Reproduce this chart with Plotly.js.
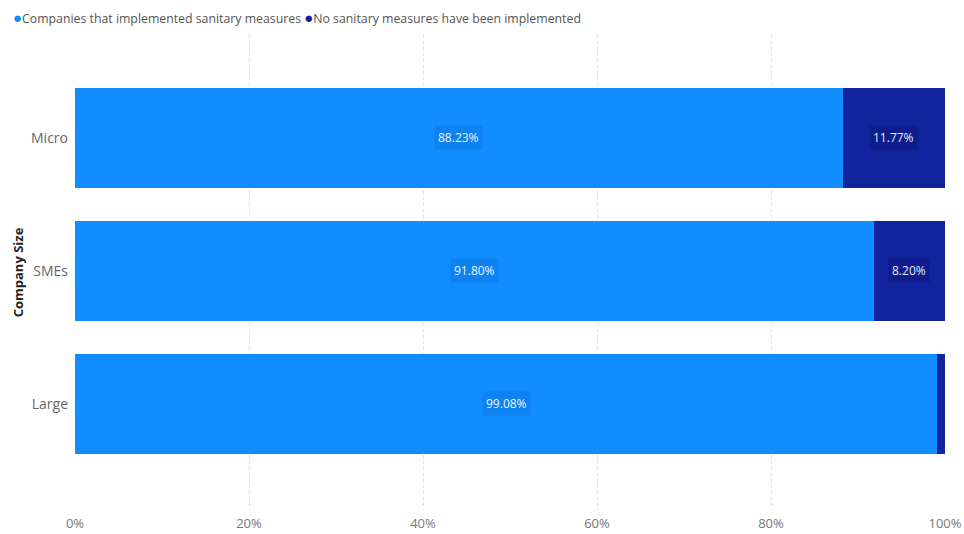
<!DOCTYPE html>
<html>
<head>
<meta charset="utf-8">
<script src="https://cdn.plot.ly/plotly-3.0.1.min.js"></script>
<style>html,body{margin:0;padding:0;background:#fff;}#chart{width:964px;height:534px;}</style>
</head>
<body>
<div id="chart"></div>
<script>
const categories = ['Micro', 'SMEs', 'Large'];
const implemented = [88.23, 91.80, 99.08];
const notImplemented = [11.77, 8.20, 0.92];
const seriesNames = ['Companies that implemented sanitary measures', 'No sanitary measures have been implemented'];
const colors = ['#118DFF', '#12239E'];
const xTickVals = [0, 20, 40, 60, 80, 100];
const xTickText = ['0%', '20%', '40%', '60%', '80%', '100%'];
const labelMin = 3;

const font = '"Segoe UI", "Open Sans", "Noto Sans", sans-serif';

const traces = [
  {type: 'bar', orientation: 'h', name: seriesNames[0], y: categories, x: implemented,
   marker: {color: colors[0]}, hoverinfo: 'x+y', showlegend: false},
  {type: 'bar', orientation: 'h', name: seriesNames[1], y: categories, x: notImplemented,
   marker: {color: colors[1]}, hoverinfo: 'x+y', showlegend: false}
];

const annotations = [];
categories.forEach((c, i) => {
  if (implemented[i] >= labelMin) {
    annotations.push({x: implemented[i] / 2, y: c, xref: 'x', yref: 'y', showarrow: false,
      text: implemented[i].toFixed(2) + '%', font: {family: font, size: 12, color: '#EAF3FF'},
      bgcolor: 'rgba(0,60,140,0.12)', borderpad: 3});
  }
  if (notImplemented[i] >= labelMin) {
    annotations.push({x: implemented[i] + notImplemented[i] / 2, y: c, xref: 'x', yref: 'y', showarrow: false,
      text: notImplemented[i].toFixed(2) + '%', font: {family: font, size: 12, color: '#E6E9FA'},
      bgcolor: 'rgba(0,0,60,0.18)', borderpad: 3});
  }
});
annotations.push({
  xref: 'paper', yref: 'paper', x: -0.074, y: 1 + 18 / 475, xanchor: 'left', yanchor: 'middle',
  showarrow: false, align: 'left',
  text: '<span style="color:' + colors[0] + ';font-size:15px">●</span>' + seriesNames[0] + ' <span style="color:' + colors[1] + ';font-size:15px">●</span>' + seriesNames[1],
  font: {family: font, size: 12.3, color: '#555555'}
});

const layout = {
  width: 964, height: 534,
  margin: {l: 75, r: 19, t: 35, b: 24},
  paper_bgcolor: '#ffffff', plot_bgcolor: '#ffffff',
  barmode: 'stack', bargap: 0.25,
  font: {family: font, color: '#666666'},
  xaxis: {range: [0, 100], tickvals: xTickVals, ticktext: xTickText, showgrid: true,
    gridcolor: '#DDDDDD', griddash: 'dot', gridwidth: 1, zeroline: false, showline: false,
    tickfont: {family: font, size: 13, color: '#777777'}, fixedrange: true, ticklabelstandoff: 4},
  yaxis: {type: 'category', categoryorder: 'array', categoryarray: ['Large', 'SMEs', 'Micro'],
    range: [-0.797, 2.774], showgrid: false, zeroline: false, showline: false,
    tickfont: {family: font, size: 14, color: '#666666'}, ticklabelstandoff: 6,
    title: {text: '<b>Company Size</b>', font: {family: font, size: 13, color: '#222222'}, standoff: 4}},
  annotations: annotations,
  showlegend: false
};

Plotly.newPlot('chart', traces, layout, {displayModeBar: false, staticPlot: true});
</script>
</body>
</html>
